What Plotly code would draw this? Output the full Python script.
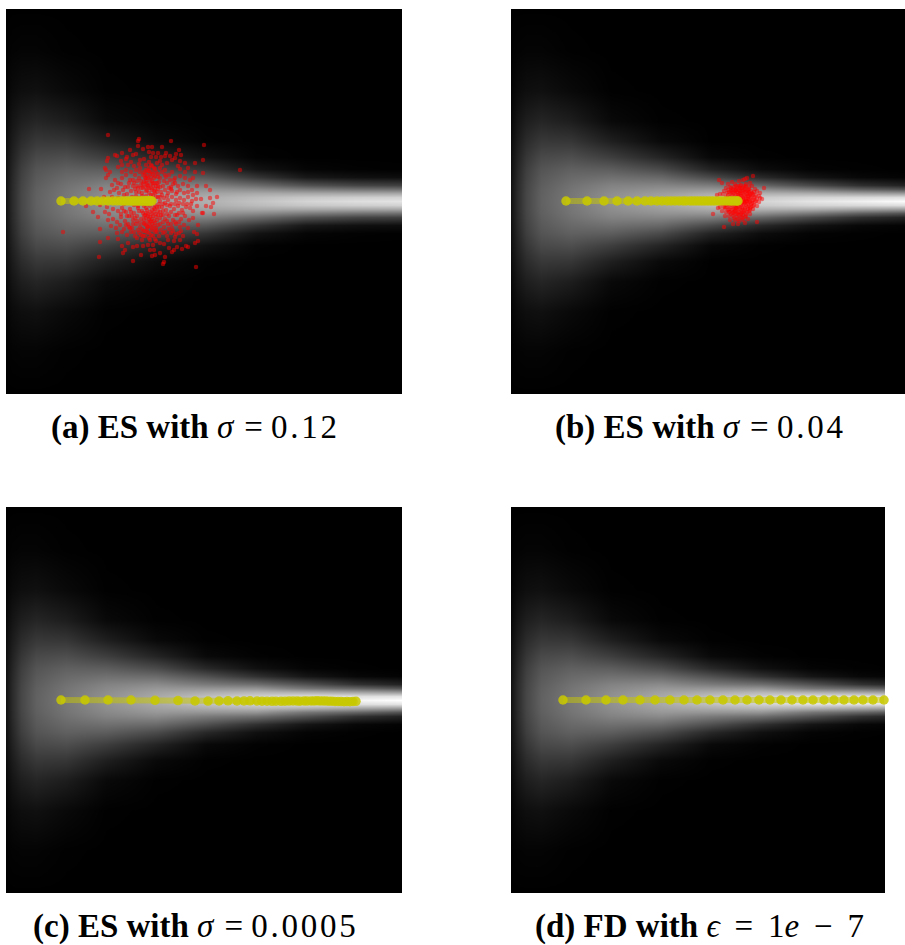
import numpy as np
import plotly.graph_objects as go

# everything is in picture pixels, so the values can be read straight off the figure
FIELD_DY = [0, 4, 8, 12, 16, 24, 32, 44, 60, 80, 110, 150, 193]
FIELD_X = [0, 6, 15, 30, 60, 100, 150, 200, 250, 300, 350, 396]

# gray level per column, from the centre line outwards
LEFT_COLS = [
    [18, 18, 18, 18, 18, 17, 16, 15, 12, 8, 4, 1, 0],
    [42, 42, 42, 41, 41, 39, 37, 33, 27, 20, 10, 3, 0],
    [70, 70, 70, 69, 68, 65, 62, 54, 43, 30, 14, 4, 0],
    [97, 97, 96, 95, 93, 89, 84, 73, 56, 37, 16, 4, 0],
    [120, 119, 118, 116, 113, 105, 96, 78, 54, 29, 9, 1, 0],
    [145, 144, 141, 136, 130, 112, 93, 62, 31, 9, 1, 0, 0],
]
RIGHT_COLS_A = [
    [155, 153, 148, 140, 128, 102, 74, 38, 11, 2, 0, 0, 0],
    [176, 172, 162, 147, 128, 88, 52, 17, 2, 0, 0, 0, 0],
    [194, 187, 168, 139, 108, 54, 19, 2, 0, 0, 0, 0, 0],
    [212, 199, 167, 124, 82, 24, 5, 0, 0, 0, 0, 0, 0],
    [222, 206, 166, 115, 69, 16, 2, 0, 0, 0, 0, 0, 0],
    [228, 210, 166, 112, 64, 13, 1, 0, 0, 0, 0, 0, 0],
]
RIGHT_COLS_B = [
    [165, 163, 156, 146, 133, 104, 74, 36, 9, 1, 0, 0, 0],
    [190, 185, 170, 149, 124, 74, 35, 7, 0, 0, 0, 0, 0],
    [212, 202, 175, 140, 102, 41, 12, 1, 0, 0, 0, 0, 0],
    [228, 212, 172, 121, 74, 19, 3, 0, 0, 0, 0, 0, 0],
    [240, 217, 160, 96, 47, 7, 1, 0, 0, 0, 0, 0, 0],
    [252, 222, 154, 82, 34, 3, 0, 0, 0, 0, 0, 0, 0],
]
RIGHT_COLS_CD = [
    [170, 168, 161, 151, 138, 107, 75, 36, 9, 1, 0, 0, 0],
    [195, 190, 172, 149, 122, 80, 40, 9, 1, 0, 0, 0, 0],
    [215, 206, 182, 148, 110, 49, 16, 2, 0, 0, 0, 0, 0],
    [235, 220, 175, 118, 82, 21, 4, 0, 0, 0, 0, 0, 0],
    [245, 222, 165, 101, 50, 7, 1, 0, 0, 0, 0, 0, 0],
    [255, 226, 155, 83, 34, 3, 0, 0, 0, 0, 0, 0, 0],
]

# optimiser steps
PATH_A_X = [61, 74, 83, 91, 97, 103, 108, 113, 117, 121, 124, 127, 130, 132, 134, 136, 138, 140, 142, 143,
            145, 146, 147, 148, 149, 150, 151, 152]
PATH_B_X = [566, 587, 604, 617, 628, 637, 645, 651, 657, 662, 667, 671, 675, 679, 683, 686, 690, 693, 696, 699,
            702, 705, 708, 711, 714, 717, 720, 723, 726, 729, 731, 733, 735, 737, 738]
PATH_C_X = [61, 85, 108, 131, 155, 178, 195, 208, 219, 228, 237, 244, 250, 257, 262, 267, 272, 276, 281, 285,
            289, 293, 297, 300, 304, 307, 311, 314, 317, 320, 323, 326, 329, 332, 335, 338, 341, 344, 347, 350, 353, 356]
PATH_C_Y = [700, 700, 700, 700, 700.3, 700.6, 701, 701.1, 701, 700.8, 701, 700.9, 700.8, 701, 701.2, 701.2, 701.3, 701.2,
            701.3, 701.2, 701.1, 701, 701.1, 701.2, 701, 701.1, 701, 700.9, 700.8, 700.9, 701, 701.1, 701.2, 701.2, 701.4,
            701.5, 701.6, 701.7, 701.6, 701.7, 701.5, 701.3]
PATH_D_X = [563, 586, 606, 623, 640, 655, 670, 684, 697, 710, 723, 735, 747, 759, 770, 781, 792, 803, 813, 824,
            834, 844, 854, 863, 873, 884]

RED_A = [
    (108, 135), (139, 139), (138, 141), (171, 141), (204, 145), (138, 146), (143, 149), (148, 147), (152, 147), (162, 147),
    (179, 150), (122, 153), (115, 155), (117, 156), (130, 150), (133, 155), (136, 154), (149, 152), (153, 153), (158, 153),
    (166, 153), (176, 154), (181, 155), (127, 157), (151, 157), (161, 157), (107, 161), (121, 161), (126, 159), (131, 162),
    (140, 160), (144, 159), (149, 162), (156, 157), (160, 161), (165, 156), (170, 156), (175, 158), (180, 161), (167, 163),
    (172, 160), (185, 163), (195, 163), (203, 160), (108, 158), (105, 168), (106, 170), (122, 165), (118, 167), (128, 165),
    (134, 166), (140, 168), (146, 170), (152, 166), (160, 168), (165, 170), (172, 172), (180, 169), (185, 172), (178, 166),
    (188, 168), (195, 172), (203, 173), (108, 175), (110, 172), (240, 170), (115, 180), (118, 183), (122, 178), (126, 175),
    (130, 180), (135, 175), (140, 172), (145, 178), (150, 174), (155, 176), (160, 178), (165, 175), (170, 180), (175, 183),
    (180, 176), (185, 178), (190, 180), (193, 178), (106, 178), (112, 185), (117, 188), (121, 184), (125, 187), (129, 183),
    (133, 186), (137, 181), (141, 185), (144, 182), (147, 185), (150, 180), (153, 183), (156, 186), (159, 182), (163, 186),
    (167, 183), (171, 187), (174, 180), (178, 186), (183, 184), (188, 186), (192, 190), (197, 186), (206, 186), (210, 190),
    (89, 189), (101, 189), (110, 192), (114, 190), (119, 193), (123, 190), (127, 194), (131, 191), (135, 189), (139, 192),
    (143, 188), (146, 191), (149, 188), (152, 190), (155, 193), (158, 189), (161, 192), (165, 190), (168, 193), (172, 191),
    (176, 194), (180, 190), (184, 193), (188, 192), (193, 195), (197, 193), (201, 199), (210, 198), (217, 197), (112, 197),
    (118, 198), (104, 197), (100, 205), (107, 207), (160, 197), (164, 198), (168, 200), (172, 197), (176, 200), (180, 198),
    (184, 200), (188, 197), (192, 201), (196, 199), (156, 197), (86, 206), (206, 206), (211, 207), (213, 203), (203, 213),
    (202, 213), (214, 214), (93, 212), (98, 217), (105, 212), (109, 214), (113, 209), (118, 211), (122, 208), (126, 212),
    (130, 209), (134, 213), (138, 208), (142, 211), (146, 208), (150, 212), (154, 208), (158, 211), (162, 207), (166, 210),
    (170, 206), (174, 209), (178, 206), (182, 210), (186, 207), (190, 208), (193, 211), (197, 206), (155, 205), (159, 204),
    (163, 204), (167, 205), (171, 204), (175, 204), (179, 203), (183, 204), (187, 204), (191, 204), (108, 220), (113, 219),
    (117, 222), (121, 217), (125, 221), (129, 216), (133, 220), (137, 216), (141, 219), (145, 215), (149, 219), (153, 216),
    (157, 220), (161, 215), (165, 219), (169, 216), (173, 220), (177, 215), (181, 219), (185, 216), (189, 220), (193, 218),
    (111, 226), (116, 228), (120, 225), (124, 229), (128, 224), (132, 228), (136, 224), (140, 227), (144, 223), (148, 227),
    (152, 224), (156, 228), (160, 224), (164, 227), (168, 224), (172, 228), (176, 224), (180, 227), (184, 225), (188, 228),
    (198, 225), (63, 232), (100, 229), (117, 233), (122, 232), (127, 235), (131, 232), (135, 236), (139, 233), (143, 236),
    (147, 232), (151, 235), (155, 232), (159, 236), (163, 233), (167, 236), (171, 233), (175, 237), (179, 233), (183, 236),
    (194, 232), (197, 234), (108, 238), (118, 239), (100, 242), (128, 243), (122, 246), (133, 247), (137, 246), (143, 246),
    (148, 245), (153, 245), (160, 243), (164, 244), (169, 248), (177, 247), (182, 249), (186, 246), (188, 247), (195, 243),
    (198, 241), (142, 240), (150, 240), (156, 241), (168, 240), (174, 241), (180, 240), (125, 250), (123, 253), (150, 250),
    (154, 250), (174, 250), (172, 252), (141, 255), (152, 256), (155, 255), (160, 253), (165, 257), (99, 257), (133, 261),
    (164, 262), (163, 264), (196, 267), (146, 196), (150, 198), (154, 201), (148, 204), (144, 206), (146, 213), (152, 214),
    (148, 222), (150, 226), (152, 230), (147, 229), (154, 221), (150, 217), (156, 214), (146, 218), (144, 224), (143, 231),
    (151, 184), (147, 176), (152, 172), (149, 168), (154, 178), (156, 172), (145, 174), (143, 184), (148, 178), (154, 168),
    (158, 174), (158, 197), (136, 196), (138, 206), (132, 216), (134, 205), (160, 212), (142, 196), (128, 200), (124, 204),
    # denser core
    (151, 165), (148, 171), (143, 175), (155, 169), (158, 177), (146, 181), (151, 177), (139, 178), (162, 172), (153, 186),
    (157, 183), (149, 193), (145, 187), (141, 181), (137, 186), (164, 181), (160, 187), (155, 189), (151, 195), (147, 183),
    (133, 180), (128, 187), (124, 195), (136, 192), (141, 188), (169, 188), (173, 184), (166, 177), (157, 192), (162, 195),
    (167, 196), (171, 189), (177, 192), (132, 197), (139, 198), (144, 199), (150, 206), (155, 209), (159, 207), (147, 210),
    (143, 213), (139, 211), (135, 218), (131, 212), (127, 216), (124, 211), (121, 214), (163, 211), (167, 214), (171, 212),
    (175, 215), (179, 213), (183, 213), (152, 219), (156, 217), (160, 218), (148, 216), (144, 220), (140, 223), (137, 221),
    (133, 224), (129, 227), (126, 225), (163, 222), (167, 221), (171, 224), (175, 222), (179, 222), (158, 225), (154, 226),
    (150, 222), (146, 225), (142, 229), (138, 230), (134, 232), (130, 228), (161, 230), (165, 232), (169, 229), (173, 231),
    (157, 232), (153, 236), (149, 233), (145, 236), (141, 235), (137, 238), (176, 234), (181, 231), (154, 212), (158, 215),
    (163, 215), (147, 190), (142, 193), (138, 188), (134, 183), (144, 172), (139, 164), (146, 165), (157, 163), (162, 165),
    (169, 175), (175, 178), (131, 172), (126, 170), (122, 172), (136, 170), (160, 201), (165, 203), (157, 207), (152, 210),
    (153, 195), (148, 186), (154, 191), (158, 186), (151, 188), (146, 178), (152, 181), (155, 183), (149, 171), (153, 174),
    (144, 216), (148, 214), (151, 221), (155, 223), (147, 226), (152, 228), (156, 230), (145, 231), (149, 238), (155, 239),
]

RED_B = [
    (753, 176), (745, 179), (747, 178), (719, 180), (722, 183), (732, 182), (728, 184), (739, 181), (743, 180), (735, 184),
    (741, 185), (746, 184), (750, 183), (726, 188), (730, 187), (734, 187), (738, 186), (742, 188), (745, 187), (749, 187),
    (752, 186), (755, 189), (764, 188), (724, 191), (728, 190), (732, 190), (736, 190), (740, 191), (744, 190), (748, 190),
    (751, 191), (754, 192), (757, 191), (760, 193), (720, 194), (723, 194), (727, 193), (731, 193), (735, 193), (739, 193),
    (743, 193), (747, 193), (750, 194), (753, 194), (756, 195), (759, 196), (717, 195), (745, 196), (748, 196), (751, 197),
    (754, 198), (757, 199), (760, 198), (741, 196), (738, 195), (743, 199), (746, 199), (749, 200), (752, 201), (755, 202),
    (759, 202), (762, 199), (742, 203), (745, 203), (748, 204), (751, 204), (754, 205), (757, 206), (723, 204), (727, 205),
    (731, 205), (735, 206), (739, 206), (743, 207), (747, 207), (750, 208), (753, 209), (720, 207), (718, 208), (725, 208),
    (729, 209), (733, 209), (737, 209), (741, 210), (745, 210), (749, 211), (713, 214), (722, 211), (726, 212), (730, 212),
    (734, 212), (738, 213), (742, 213), (746, 214), (750, 214), (725, 216), (729, 216), (733, 216), (737, 217), (741, 217),
    (745, 217), (730, 220), (735, 220), (739, 221), (743, 220), (748, 219), (733, 224), (738, 224), (745, 223), (757, 222),
    (724, 227), (736, 190), (740, 188), (744, 186), (738, 198), (741, 200), (744, 202), (747, 201), (740, 204), (736, 208),
    # solid core
    (733, 189), (737, 188), (741, 189), (745, 189), (749, 189), (731, 191), (735, 191), (739, 190), (743, 191), (747, 191),
    (729, 192), (733, 193), (737, 192), (741, 193), (745, 192), (749, 192), (728, 195), (732, 195), (736, 195), (740, 194),
    (744, 195), (748, 194), (752, 195), (730, 197), (734, 197), (738, 197), (742, 197), (746, 197), (750, 198), (753, 200),
    (748, 199), (744, 200), (741, 198), (746, 201), (750, 202), (743, 201), (748, 202), (752, 203), (744, 204), (746, 205),
    (749, 206), (741, 205), (737, 205), (733, 204), (729, 204), (738, 207), (734, 207), (730, 207), (742, 208), (745, 208),
    (748, 209), (751, 207), (740, 209), (736, 210), (732, 210), (728, 210), (744, 211), (747, 212), (735, 211), (739, 212),
    (743, 212), (731, 214), (735, 214), (739, 215), (743, 215), (733, 213), (737, 214), (741, 214), (746, 216), (734, 218),
    (738, 219), (742, 218), (729, 212), (726, 207), (749, 196), (752, 193), (755, 197), (756, 201), (753, 206), (750, 210),
    (740, 186), (736, 186), (746, 186), (731, 188), (727, 199), (725, 203), (724, 207), (726, 197), (728, 202), (731, 200),
]

CAPTIONS = [
    "<b>(a) ES with</b> <i>σ</i>\u200a = 0\u200a.\u200a1\u200a2",
    "<b>(b) ES with</b> <i>σ</i>\u200a = 0\u200a.\u200a0\u200a4",
    "<b>(c) ES with</b> <i>σ</i>\u200a = 0\u200a.\u200a0\u200a0\u200a0\u200a5",
    "<b>(d) FD with</b> <i>ϵ</i>\u2009 = \u20091<i>e</i>\u2009 − \u20097",
]
CAPTION_X = [194, 699, 194, 699]
CAPTION_Y = [427, 427, 926, 926]

W, H = 905, 945
YELLOW_LINE = "rgba(200,200,0,0.5)"
YELLOW_DOT = "rgba(200,200,0,0.85)"

# left, right, top, bottom, centre line
panels = [
    (6, 402, 9, 394, 201),
    (511, 905, 9, 394, 201),
    (6, 402, 507, 893, 700),
    (511, 885, 507, 893, 700),
]
fields = [LEFT_COLS + RIGHT_COLS_A, LEFT_COLS + RIGHT_COLS_B, LEFT_COLS + RIGHT_COLS_CD, LEFT_COLS + RIGHT_COLS_CD]
reds = [RED_A, RED_B, None, None]
paths = [
    (PATH_A_X, [201] * len(PATH_A_X)),
    (PATH_B_X, [201] * len(PATH_B_X)),
    (PATH_C_X, PATH_C_Y),
    (PATH_D_X, [700] * len(PATH_D_X)),
]

fig = go.Figure()
layout_axes = {}

for i, (left, right, top, bottom, cy) in enumerate(panels):
    n = "" if i == 0 else str(i + 1)
    xref, yref = f"x{n}", f"y{n}"
    layout_axes[f"xaxis{n}"] = dict(domain=[left / W, right / W], range=[left, right], visible=False, fixedrange=True, anchor=yref)
    layout_axes[f"yaxis{n}"] = dict(domain=[1 - bottom / H, 1 - top / H], range=[bottom, top], visible=False, fixedrange=True, anchor=xref)

    half = np.array(fields[i]).T
    z = np.vstack([half[::-1], half[1:]])
    dy = np.array(FIELD_DY)
    y = np.concatenate([cy - dy[::-1], cy + dy[1:]])
    fig.add_trace(go.Heatmap(
        x=[left + v for v in FIELD_X], y=y, z=z, xaxis=xref, yaxis=yref,
        zmin=0, zmax=255, zsmooth="best", showscale=False, hoverinfo="skip",
        colorscale=[[0, "#000000"], [1, "#ffffff"]],
    ))

    if reds[i]:
        rx, ry = zip(*reds[i])
        fig.add_trace(go.Scatter(
            x=rx, y=ry, xaxis=xref, yaxis=yref, mode="markers",
            marker=dict(color="rgba(255,0,0,0.5)", size=4.5, line=dict(width=0)),
            hoverinfo="skip",
        ))

    px, py = paths[i]
    fig.add_trace(go.Scatter(
        x=px, y=py, xaxis=xref, yaxis=yref, mode="lines",
        line=dict(color=YELLOW_LINE, width=6), hoverinfo="skip",
    ))
    fig.add_trace(go.Scatter(
        x=px, y=py, xaxis=xref, yaxis=yref, mode="markers", cliponaxis=False,
        marker=dict(color=YELLOW_DOT, size=9.5, line=dict(width=0)), hoverinfo="skip",
    ))

annotations = []
for text, cx, cy in zip(CAPTIONS, CAPTION_X, CAPTION_Y):
    annotations.append(dict(
        text=text, xref="paper", yref="paper", x=cx / W, y=1 - cy / H,
        xanchor="center", yanchor="middle", showarrow=False,
        font=dict(family="Liberation Serif", size=33, color="#000000"),
    ))

fig.update_layout(
    width=W, height=H,
    margin=dict(l=0, r=0, t=0, b=0),
    paper_bgcolor="white", plot_bgcolor="white",
    showlegend=False,
    annotations=annotations,
    **layout_axes,
)

fig.write_html("out.html", post_script="document.body.style.margin='0';", config=dict(displayModeBar=False))
